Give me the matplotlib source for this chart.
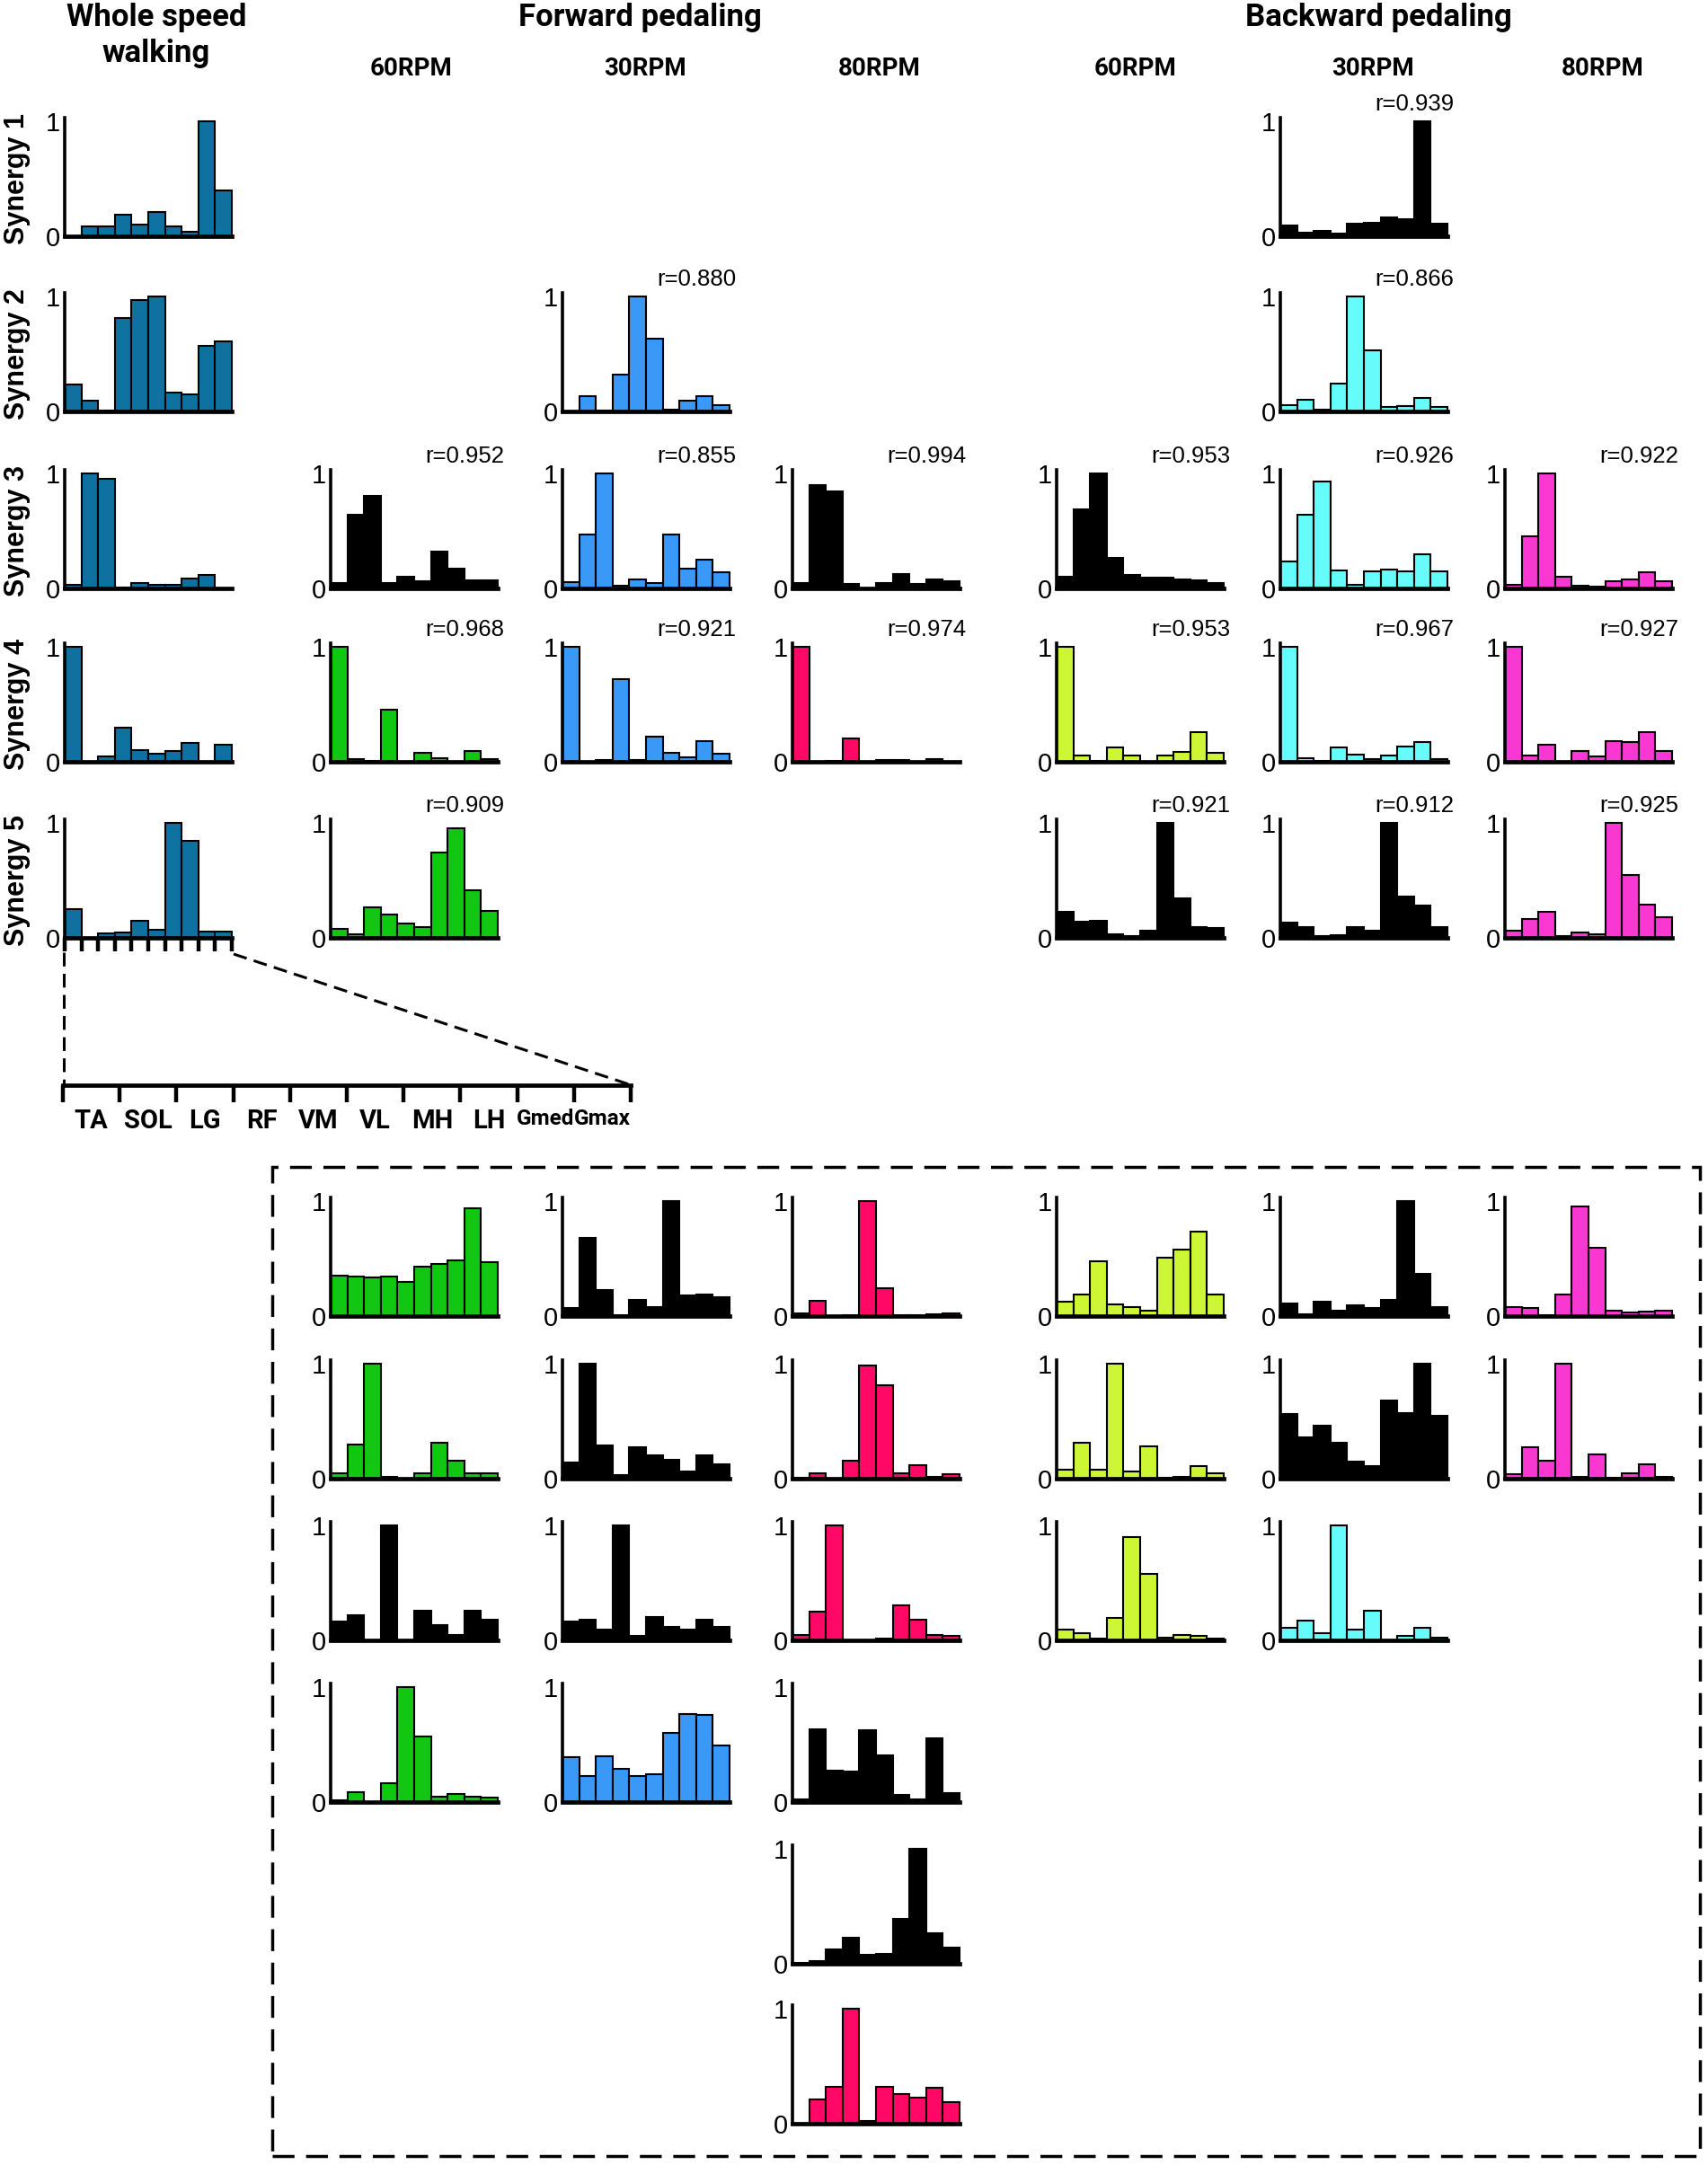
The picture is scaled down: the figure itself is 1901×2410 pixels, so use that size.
import numpy as np
import matplotlib
matplotlib.use("Agg")
import matplotlib.pyplot as plt
from matplotlib.lines import Line2D
from matplotlib.patches import Rectangle

# ---------------- data ----------------
muscles = ['TA', 'SOL', 'LG', 'RF', 'VM', 'VL', 'MH', 'LH', 'Gmed', 'Gmax']
synergy_labels = ['Synergy 1', 'Synergy 2', 'Synergy 3', 'Synergy 4', 'Synergy 5']
speed_labels = ['60RPM', '30RPM', '80RPM', '60RPM', '30RPM', '80RPM']

# whole speed walking
walk_s1 = [0.0, 0.085, 0.085, 0.186, 0.098, 0.21, 0.085, 0.04, 1.0, 0.40]
walk_s2 = [0.237, 0.092, 0.01, 0.81, 0.97, 1.0, 0.16, 0.145, 0.566, 0.61]
walk_s3 = [0.03, 1.0, 0.95, 0.01, 0.05, 0.03, 0.03, 0.085, 0.12, 0.0]
walk_s4 = [1.0, 0.0, 0.05, 0.30, 0.10, 0.07, 0.095, 0.16, 0.0, 0.15]
walk_s5 = [0.25, 0.0, 0.04, 0.045, 0.15, 0.07, 1.0, 0.84, 0.055, 0.055]

# forward pedaling 60 RPM
f60_s3 = [0.05, 0.64, 0.80, 0.05, 0.10, 0.06, 0.32, 0.17, 0.07, 0.07]
f60_s4 = [1.0, 0.02, 0.01, 0.45, 0.0, 0.08, 0.03, 0.0, 0.09, 0.025]
f60_s5 = [0.08, 0.03, 0.265, 0.205, 0.125, 0.09, 0.745, 0.95, 0.41, 0.235]
# forward pedaling 30 RPM
f30_s2 = [0.0, 0.13, 0.005, 0.32, 1.0, 0.635, 0.013, 0.09, 0.13, 0.055]
f30_s3 = [0.055, 0.47, 1.0, 0.025, 0.08, 0.045, 0.47, 0.17, 0.25, 0.14]
f30_s4 = [1.0, 0.0, 0.015, 0.72, 0.015, 0.22, 0.077, 0.037, 0.18, 0.07]
# forward pedaling 80 RPM
f80_s3 = [0.05, 0.90, 0.84, 0.04, 0.0, 0.045, 0.125, 0.04, 0.075, 0.06]
f80_s4 = [1.0, 0.0, 0.005, 0.2, 0.0, 0.018, 0.018, 0.0, 0.024, 0.0]
# backward pedaling 60 RPM
b60_s3 = [0.10, 0.69, 1.0, 0.265, 0.12, 0.09, 0.095, 0.08, 0.07, 0.05]
b60_s4 = [1.0, 0.055, 0.01, 0.125, 0.055, 0.0, 0.055, 0.085, 0.255, 0.075]
b60_s5 = [0.23, 0.14, 0.15, 0.03, 0.015, 0.06, 1.0, 0.34, 0.09, 0.085]
# backward pedaling 30 RPM
b30_s1 = [0.09, 0.03, 0.05, 0.025, 0.107, 0.115, 0.16, 0.145, 1.0, 0.11]
b30_s2 = [0.053, 0.10, 0.013, 0.245, 1.0, 0.533, 0.04, 0.045, 0.12, 0.04]
b30_s3 = [0.235, 0.64, 0.93, 0.155, 0.03, 0.145, 0.16, 0.15, 0.30, 0.145]
b30_s4 = [1.0, 0.03, 0.01, 0.125, 0.065, 0.025, 0.055, 0.13, 0.175, 0.025]
b30_s5 = [0.13, 0.095, 0.015, 0.025, 0.09, 0.06, 1.0, 0.36, 0.28, 0.095]
# backward pedaling 80 RPM
b80_s3 = [0.035, 0.45, 1.0, 0.105, 0.025, 0.015, 0.065, 0.08, 0.14, 0.06]
b80_s4 = [1.0, 0.055, 0.15, 0.0, 0.095, 0.05, 0.18, 0.175, 0.26, 0.095]
b80_s5 = [0.06, 0.165, 0.225, 0.015, 0.05, 0.03, 1.0, 0.545, 0.29, 0.18]

# similarity coefficients
r_f60 = [0.952, 0.968, 0.909]
r_f30 = [0.880, 0.855, 0.921]
r_f80 = [0.994, 0.974]
r_b60 = [0.953, 0.953, 0.921]
r_b30 = [0.939, 0.866, 0.926, 0.967, 0.912]
r_b80 = [0.922, 0.927, 0.925]

# additional (unmatched) synergies in the dashed box
f60_extra = [
    [0.35, 0.34, 0.335, 0.34, 0.295, 0.43, 0.455, 0.48, 0.94, 0.47],
    [0.045, 0.30, 1.0, 0.013, 0.003, 0.046, 0.31, 0.154, 0.046, 0.046],
    [0.165, 0.22, 0.0, 1.0, 0.0, 0.26, 0.13, 0.05, 0.255, 0.18],
    [0.018, 0.084, 0.0, 0.165, 1.0, 0.57, 0.045, 0.073, 0.045, 0.04],
]
f30_extra = [
    [0.07, 0.68, 0.225, 0.01, 0.14, 0.08, 1.0, 0.18, 0.185, 0.165],
    [0.14, 1.0, 0.29, 0.028, 0.275, 0.2, 0.165, 0.066, 0.2, 0.127],
    [0.165, 0.18, 0.094, 1.0, 0.038, 0.2, 0.12, 0.09, 0.18, 0.12],
    [0.39, 0.23, 0.40, 0.29, 0.23, 0.245, 0.60, 0.765, 0.76, 0.49],
]
f80_extra = [
    [0.02, 0.13, 0.0, 0.008, 1.0, 0.245, 0.005, 0.008, 0.013, 0.02],
    [0.01, 0.046, 0.0, 0.154, 0.98, 0.815, 0.05, 0.12, 0.013, 0.038],
    [0.046, 0.25, 1.0, 0.0, 0.0, 0.015, 0.305, 0.18, 0.046, 0.038],
    [0.025, 0.63, 0.27, 0.265, 0.625, 0.405, 0.06, 0.02, 0.555, 0.08],
    [0.008, 0.025, 0.127, 0.223, 0.076, 0.084, 0.387, 1.0, 0.266, 0.144],
    [0.0, 0.207, 0.318, 1.0, 0.026, 0.323, 0.258, 0.227, 0.315, 0.186],
]
b60_extra = [
    [0.127, 0.19, 0.475, 0.10, 0.076, 0.046, 0.505, 0.575, 0.73, 0.19],
    [0.078, 0.31, 0.078, 1.0, 0.065, 0.28, 0.008, 0.018, 0.11, 0.047],
    [0.09, 0.064, 0.013, 0.193, 0.895, 0.575, 0.026, 0.046, 0.039, 0.018],
]
b30_extra = [
    [0.11, 0.013, 0.127, 0.046, 0.094, 0.07, 0.144, 1.0, 0.37, 0.08],
    [0.56, 0.36, 0.46, 0.315, 0.145, 0.11, 0.68, 0.57, 1.0, 0.55],
    [0.108, 0.173, 0.064, 1.0, 0.095, 0.258, 0.0, 0.039, 0.11, 0.026],
]
b80_extra = [
    [0.076, 0.068, 0.008, 0.187, 0.955, 0.59, 0.046, 0.033, 0.038, 0.043],
    [0.04, 0.27, 0.155, 1.0, 0.015, 0.21, 0.008, 0.046, 0.124, 0.013],
]

# ---------------- style ----------------
C_WALK = '#0F71A0'
C_F60 = '#11C711'
C_F30 = '#3A98F7'
C_F80 = '#FF0866'
C_B60 = '#CDF734'
C_B30 = '#66FCFC'
C_B80 = '#F838D0'
C_BLK = '#000000'

W, H = 1901, 2410
fig = plt.figure(figsize=(W / 100, H / 100), dpi=100)
fig.patch.set_facecolor('white')

def fx(x):
    return x / W

def fy(y):
    return 1 - y / H

AXW, AXH = 186, 132
YTOP = 1.03
TICKFONT = ['Liberation Sans Narrow', 'Liberation Sans']

col_left = [72, 368, 626, 882, 1176, 1425, 1675]
up_base = [263, 458, 655, 848, 1044]
low_base = [1465, 1646, 1826, 2006, 2186, 2364]


def mini(left, base, vals, color, r=None, ticks=False):
    ax = fig.add_axes([fx(left), fy(base), AXW / W, AXH / H])
    x = np.arange(len(vals))
    ax.bar(x, vals, width=1.0, color=color, edgecolor='black',
           linewidth=1.5, clip_on=False, zorder=2)
    ax.set_xlim(-0.5, len(vals) - 0.5)
    ax.set_ylim(0, YTOP)
    for s in ['top', 'right']:
        ax.spines[s].set_visible(False)
    ax.spines['left'].set_linewidth(2.6)
    ax.spines['bottom'].set_linewidth(3.4)
    ax.spines['left'].set_zorder(3)
    ax.spines['bottom'].set_zorder(3)
    ax.set_yticks([0, 1])
    ax.set_yticklabels(['0', '1'], fontsize=21, family=TICKFONT)
    ax.tick_params(axis='y', length=0, pad=3.5)
    if ticks:
        ax.set_xticks(np.arange(-0.5, len(vals), 1.0))
        ax.tick_params(axis='x', direction='out', length=11, width=3.2,
                       labelbottom=False)
    else:
        ax.set_xticks([])
    if r is not None:
        ax.text(1.04, 1.11, f'r={r:.3f}', transform=ax.transAxes,
                ha='right', va='center', fontsize=18.5,
                family=['Liberation Sans', 'DejaVu Sans'])
    ax.patch.set_alpha(0)
    return ax


# ---------------- upper grid ----------------
walk = [walk_s1, walk_s2, walk_s3, walk_s4, walk_s5]
for i, v in enumerate(walk):
    mini(col_left[0], up_base[i], v, C_WALK, ticks=(i == 4))

mini(col_left[1], up_base[2], f60_s3, C_BLK, r_f60[0])
mini(col_left[1], up_base[3], f60_s4, C_F60, r_f60[1])
mini(col_left[1], up_base[4], f60_s5, C_F60, r_f60[2])

mini(col_left[2], up_base[1], f30_s2, C_F30, r_f30[0])
mini(col_left[2], up_base[2], f30_s3, C_F30, r_f30[1])
mini(col_left[2], up_base[3], f30_s4, C_F30, r_f30[2])

mini(col_left[3], up_base[2], f80_s3, C_BLK, r_f80[0])
mini(col_left[3], up_base[3], f80_s4, C_F80, r_f80[1])

mini(col_left[4], up_base[2], b60_s3, C_BLK, r_b60[0])
mini(col_left[4], up_base[3], b60_s4, C_B60, r_b60[1])
mini(col_left[4], up_base[4], b60_s5, C_BLK, r_b60[2])

b30_all = [b30_s1, b30_s2, b30_s3, b30_s4, b30_s5]
b30_cols = [C_BLK, C_B30, C_B30, C_B30, C_BLK]
for i, v in enumerate(b30_all):
    mini(col_left[5], up_base[i], v, b30_cols[i], r_b30[i])

mini(col_left[6], up_base[2], b80_s3, C_B80, r_b80[0])
mini(col_left[6], up_base[3], b80_s4, C_B80, r_b80[1])
mini(col_left[6], up_base[4], b80_s5, C_B80, r_b80[2])

# ---------------- lower (dashed box) ----------------
f60_extra_cols = [C_F60, C_F60, C_BLK, C_F60]
f30_extra_cols = [C_BLK, C_BLK, C_BLK, C_F30]
f80_extra_cols = [C_F80, C_F80, C_F80, C_BLK, C_BLK, C_F80]
b60_extra_cols = [C_B60, C_B60, C_B60]
b30_extra_cols = [C_BLK, C_BLK, C_B30]
b80_extra_cols = [C_B80, C_B80]

for ci, (vals, cols) in enumerate([(f60_extra, f60_extra_cols),
                                    (f30_extra, f30_extra_cols),
                                    (f80_extra, f80_extra_cols),
                                    (b60_extra, b60_extra_cols),
                                    (b30_extra, b30_extra_cols),
                                    (b80_extra, b80_extra_cols)]):
    for ri, v in enumerate(vals):
        mini(col_left[ci + 1], low_base[ri], v, cols[ri])

# ---------------- headers ----------------
HFONT = ['Roboto', 'DejaVu Sans']
fig.text(fx(174), fy(19), 'Whole speed', ha='center', va='center',
         fontsize=25, fontweight='bold', family=HFONT)
fig.text(fx(174), fy(59), 'walking', ha='center', va='center',
         fontsize=25, fontweight='bold', family=HFONT)
fig.text(fx(712), fy(19), 'Forward pedaling', ha='center', va='center',
         fontsize=25, fontweight='bold', family=HFONT)
fig.text(fx(1534), fy(19), 'Backward pedaling', ha='center', va='center',
         fontsize=25, fontweight='bold', family=HFONT)

speed_x = [458, 718, 979, 1264, 1528, 1784]
for sx, lab in zip(speed_x, speed_labels):
    fig.text(fx(sx), fy(77), lab, ha='center', va='center',
             fontsize=20, fontweight='bold', family=HFONT)

for i, lab in enumerate(synergy_labels):
    fig.text(fx(19), fy(up_base[i] - AXH / 2 + 2), lab, ha='center',
             va='center', rotation=90, fontsize=22, fontweight='bold',
             family=['Liberation Sans', 'DejaVu Sans'])

# ---------------- muscle axis ----------------
mx = fig.add_axes([fx(70), fy(1208), (702 - 70) / W, 0.0005])
mx.set_xlim(-0.5, len(muscles) - 0.5)
mx.set_ylim(0, 1)
for s in ['top', 'right', 'left']:
    mx.spines[s].set_visible(False)
mx.spines['bottom'].set_linewidth(3.4)
mx.set_yticks([])
mx.set_xticks(np.arange(-0.5, len(muscles), 1.0))
mx.set_xticklabels([])
mx.tick_params(axis='x', which='major', direction='out', length=14, width=3.2)
mx.set_xticks(np.arange(len(muscles)), minor=True)
mx.set_xticklabels(muscles, minor=True, fontsize=21, fontweight='bold',
                   family=HFONT)
mx.tick_params(axis='x', which='minor', length=0, pad=19)
for lbl in mx.get_xticklabels(minor=True):
    if lbl.get_text() in ('Gmed', 'Gmax'):
        lbl.set_fontsize(17.5)
mx.patch.set_alpha(0)

# dashed connectors
fig.add_artist(Line2D([fx(71), fx(71)], [fy(1060), fy(1207)],
                      transform=fig.transFigure, color='black', lw=2.2,
                      ls=(0, (5, 2.7))))
fig.add_artist(Line2D([fx(260), fx(700)], [fy(1062), fy(1207)],
                      transform=fig.transFigure, color='black', lw=2.2,
                      ls=(0, (5, 2.7))))

# dashed box
fig.add_artist(Rectangle((fx(303), fy(2400)), (1892 - 303) / W,
                         (2400 - 1299) / H, transform=fig.transFigure,
                         fill=False, ec='black', lw=2.5, ls=(0, (7, 3.7))))

fig.savefig('out.png', dpi=100, facecolor='white')
